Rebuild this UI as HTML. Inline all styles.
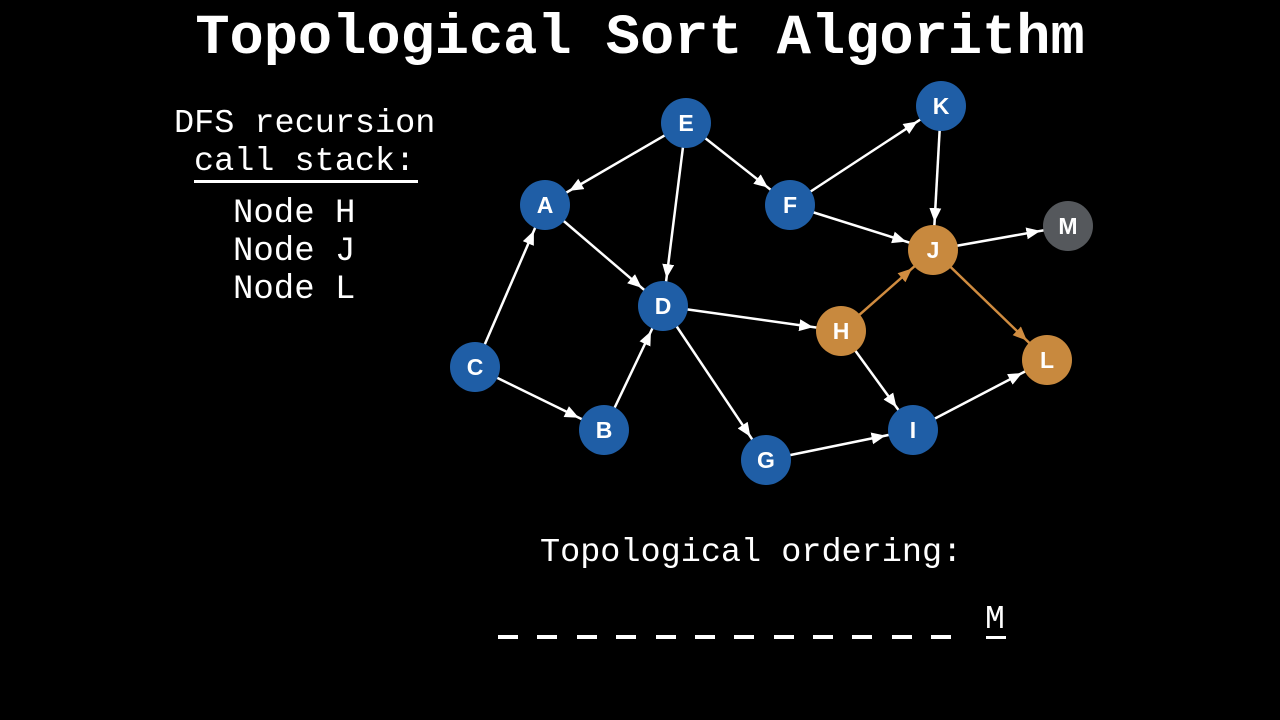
<!DOCTYPE html>
<html><head><meta charset="utf-8"><style>
html,body{margin:0;padding:0;background:#000;}
body{width:1280px;height:720px;overflow:hidden;position:relative;}
.t{position:absolute;color:#fff;font-family:"Liberation Mono",monospace;white-space:pre;}
</style></head><body>
<div class="t" style="left:0;width:1280px;text-align:center;top:3px;font-size:57px;font-weight:bold;line-height:72px;">Topological Sort Algorithm</div>
<div class="t" style="left:174px;top:104px;font-size:33.5px;line-height:40px;">DFS recursion</div>
<div class="t" style="left:194px;top:142px;font-size:33.5px;line-height:40px;">call stack:</div>
<div style="position:absolute;left:194px;top:180px;width:224px;height:3px;background:#fff"></div>
<div class="t" style="left:233px;top:195px;font-size:34px;line-height:38px;">Node H
Node J
Node L</div>
<div class="t" style="left:540px;top:533px;font-size:33.5px;line-height:40px;">Topological ordering:</div>
<div class="t" style="left:985px;top:600px;font-size:33px;line-height:40px;">M</div>
<svg width="1280" height="720" style="position:absolute;left:0;top:0">
<defs>
<marker id="w" markerUnits="userSpaceOnUse" markerWidth="60" markerHeight="14" refX="42" refY="6" orient="auto" viewBox="0 0 60 14"><path d="M0,0 L14,6 L0,12 z" fill="#fff"/></marker>
<marker id="o" markerUnits="userSpaceOnUse" markerWidth="60" markerHeight="14" refX="42" refY="6" orient="auto" viewBox="0 0 60 14"><path d="M0,0 L14,6 L0,12 z" fill="#d08c40"/></marker>
</defs>
<g stroke="#fff" stroke-width="2.5" marker-end="url(#w)">
<line x1="686" y1="123" x2="545" y2="205"/>
<line x1="686" y1="123" x2="663" y2="306"/>
<line x1="686" y1="123" x2="790" y2="205"/>
<line x1="790" y1="205" x2="941" y2="106"/>
<line x1="790" y1="205" x2="933" y2="250"/>
<line x1="941" y1="106" x2="933" y2="250"/>
<line x1="933" y1="250" x2="1068" y2="226"/>
<line x1="545" y1="205" x2="663" y2="306"/>
<line x1="475" y1="367" x2="545" y2="205"/>
<line x1="475" y1="367" x2="604" y2="430"/>
<line x1="604" y1="430" x2="663" y2="306"/>
<line x1="663" y1="306" x2="841" y2="331"/>
<line x1="663" y1="306" x2="766" y2="460"/>
<line x1="841" y1="331" x2="913" y2="430"/>
<line x1="766" y1="460" x2="913" y2="430"/>
<line x1="913" y1="430" x2="1047" y2="360"/>
</g>
<g stroke="#d08c40" stroke-width="2.5" marker-end="url(#o)">
<line x1="841" y1="331" x2="933" y2="250"/>
<line x1="933" y1="250" x2="1047" y2="360"/>
</g>
<g font-family="Liberation Sans, sans-serif" font-weight="bold" font-size="23" fill="#fff" text-anchor="middle">
<g fill="#1f5ea6">
<circle cx="686" cy="123" r="25"/><circle cx="941" cy="106" r="25"/><circle cx="545" cy="205" r="25"/><circle cx="790" cy="205" r="25"/><circle cx="663" cy="306" r="25"/><circle cx="475" cy="367" r="25"/><circle cx="604" cy="430" r="25"/><circle cx="913" cy="430" r="25"/><circle cx="766" cy="460" r="25"/>
</g>
<g fill="#c8893e">
<circle cx="933" cy="250" r="25"/><circle cx="841" cy="331" r="25"/><circle cx="1047" cy="360" r="25"/>
</g>
<circle cx="1068" cy="226" r="25" fill="#55585c"/>
<text x="686" y="131">E</text><text x="941" y="114">K</text><text x="545" y="213">A</text><text x="790" y="213">F</text><text x="663" y="314">D</text><text x="475" y="375">C</text><text x="604" y="438">B</text><text x="913" y="438">I</text><text x="766" y="468">G</text><text x="933" y="258">J</text><text x="841" y="339">H</text><text x="1047" y="368">L</text><text x="1068" y="234">M</text>
</g>
<g fill="#fff">
<rect x="498" y="635" width="20" height="4"/><rect x="537" y="635" width="20" height="4"/><rect x="577" y="635" width="20" height="4"/><rect x="616" y="635" width="20" height="4"/><rect x="656" y="635" width="20" height="4"/><rect x="695" y="635" width="20" height="4"/><rect x="734" y="635" width="20" height="4"/><rect x="774" y="635" width="20" height="4"/><rect x="813" y="635" width="20" height="4"/><rect x="852" y="635" width="20" height="4"/><rect x="892" y="635" width="20" height="4"/><rect x="931" y="635" width="20" height="4"/>
<rect x="986" y="636" width="20" height="3"/>
</g>
</svg>
</body></html>
